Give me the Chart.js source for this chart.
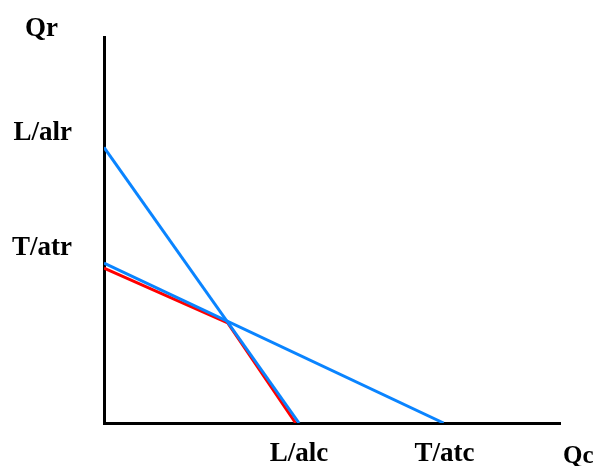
<!DOCTYPE html>
<html>
<head>
<meta charset="utf-8">
<script src="https://cdn.jsdelivr.net/npm/chart.js@4/dist/chart.umd.min.js"></script>
<style>
    body { margin: 0; background: #fff; }
    canvas { display: block; }
</style>
</head>
<body>
<canvas id="myChart" width="600" height="466"></canvas>
<script>
// Qr / Qc trade-off chart

// blue line through L/alr and L/alc
const lineLx = [0, 4.02];
const lineLy = [6.0, 0];

// blue line through T/atr and T/atc
const lineTx = [0, 7];
const lineTy = [3.48, 0];

// red frontier (kinked)
const frontierX = [0, 2.55, 3.95];
const frontierY = [3.37, 2.18, 0];

// tick values and their labels
const xTickValues = [4, 7];
const xTickLabels = ["L/alc", "T/atc"];
const yTickValues = [3.5, 6];
const yTickLabels = ["T/atr", "L/alr"];

const xAxisName = "Qc";
const yAxisName = "Qr";

const toPoints = (xs, ys) => xs.map((x, i) => ({ x: x, y: ys[i] }));

const labelFont = { family: "'Liberation Serif', 'Times New Roman', serif", size: 27, weight: "bold" };

// axis names sit outside the axes' ends
const axisNames = {
    id: "axisNames",
    afterDraw(chart) {
        const { ctx, chartArea } = chart;
        ctx.save();
        ctx.fillStyle = "#000";
        ctx.textBaseline = "alphabetic";
        ctx.textAlign = "left";
        ctx.font = "bold 27px 'Liberation Serif', serif";
        ctx.fillText(yAxisName, chartArea.left - 79, chartArea.top - 1);
        ctx.font = "bold 25px 'Liberation Serif', serif";
        ctx.fillText(xAxisName, chartArea.right + 3, chartArea.bottom + 40);
        ctx.restore();
    }
};

new Chart(document.getElementById("myChart"), {
    type: "scatter",
    data: {
        datasets: [
            {
                data: toPoints(lineLx, lineLy),
                showLine: true,
                borderColor: "#0a84ff",
                borderWidth: 3,
                pointRadius: 0
            },
            {
                data: toPoints(lineTx, lineTy),
                showLine: true,
                borderColor: "#0a84ff",
                borderWidth: 3,
                pointRadius: 0
            },
            {
                data: toPoints(frontierX, frontierY),
                showLine: true,
                borderColor: "#ff0000",
                borderWidth: 3,
                pointRadius: 0
            }
        ]
    },
    options: {
        responsive: false,
        animation: false,
        layout: { padding: { left: 0, top: 37, right: 40, bottom: 0 } },
        plugins: {
            legend: { display: false },
            tooltip: { enabled: false }
        },
        scales: {
            x: {
                type: "linear",
                min: 0,
                max: 9.4,
                grid: { display: false, drawTicks: false },
                border: { display: true, color: "#000", width: 3 },
                afterBuildTicks: (scale) => {
                    scale.ticks = xTickValues.map(v => ({ value: v }));
                },
                afterFit: (scale) => {
                    scale.height = 43;
                    scale.paddingLeft = 0;
                    scale.paddingRight = 0;
                },
                ticks: {
                    color: "#000",
                    font: labelFont,
                    padding: 15,
                    labelOffset: 1,
                    maxRotation: 0,
                    autoSkip: false,
                    callback: (value) => xTickLabels[xTickValues.indexOf(value)]
                }
            },
            y: {
                type: "linear",
                min: 0,
                max: 8.4,
                grid: { display: false, drawTicks: false },
                border: { display: true, color: "#000", width: 3 },
                afterBuildTicks: (scale) => {
                    scale.ticks = yTickValues.map(v => ({ value: v }));
                },
                afterFit: (scale) => {
                    scale.width = 104;
                    scale.paddingTop = 0;
                    scale.paddingBottom = 0;
                },
                ticks: {
                    color: "#000",
                    font: labelFont,
                    padding: 32,
                    labelOffset: -14,
                    autoSkip: false,
                    callback: (value) => yTickLabels[yTickValues.indexOf(value)]
                }
            }
        }
    },
    plugins: [axisNames]
});
</script>
</body>
</html>
